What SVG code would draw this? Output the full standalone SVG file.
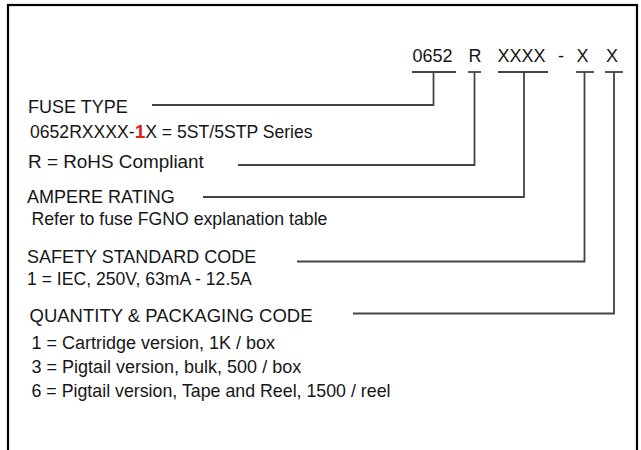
<svg xmlns="http://www.w3.org/2000/svg" width="641" height="450" viewBox="0 0 641 450">
<style>
text{font-family:"Liberation Sans",Arial,Helvetica,sans-serif;font-size:18px;fill:#161616}
.red{fill:#e0201b;font-size:19px;font-weight:bold}
.conn{fill:none;stroke:#444;stroke-width:1.8}
.ul{stroke:#444;stroke-width:1.8}
</style>
<rect x="8" y="5" width="629" height="470" fill="#fff" stroke="#000" stroke-width="2.2"/>
<g id="code">
<text x="412.5" y="62">0652</text>
<text x="468.5" y="62">R</text>
<text x="497.5" y="62">XXXX</text>
<text x="558" y="62">-</text>
<text x="576.5" y="62">X</text>
<text x="606" y="62">X</text>
<line class="ul" x1="412" y1="72" x2="456" y2="72"/>
<line class="ul" x1="468" y1="72" x2="481" y2="72"/>
<line class="ul" x1="498" y1="72" x2="548" y2="72"/>
<line class="ul" x1="576" y1="72" x2="594" y2="72"/>
<line class="ul" x1="605" y1="72" x2="623" y2="72"/>
</g>
<g id="fuse-type">
<text x="28" y="113">FUSE TYPE</text>
<text x="30" y="138" style="font-size:17.6px">0652RXXXX-<tspan class="red">1</tspan>X = 5ST/5STP Series</text>
</g>
<g id="rohs">
<text x="28" y="168" style="font-size:18.9px">R = RoHS Compliant</text>
</g>
<g id="ampere">
<text x="27" y="203">AMPERE RATING</text>
<text x="31.5" y="225" style="font-size:17.7px">Refer to fuse FGNO explanation table</text>
</g>
<g id="safety">
<text x="27" y="262.5">SAFETY STANDARD CODE</text>
<text x="27" y="285" style="font-size:17.6px">1 = IEC, 250V, 63mA - 12.5A</text>
</g>
<g id="quantity">
<text x="29.5" y="321.5" style="font-size:18.5px">QUANTITY &amp; PACKAGING CODE</text>
<text x="31.5" y="349">1 = Cartridge version, 1K / box</text>
<text x="31.5" y="372.5">3 = Pigtail version, bulk, 500 / box</text>
<text x="31.5" y="396.5" style="font-size:17.8px">6 = Pigtail version, Tape and Reel, 1500 / reel</text>
</g>
<g id="connectors">
<path class="conn" d="M152,105 H433.5 V72"/>
<path class="conn" d="M238,165 H474.5 V72"/>
<path class="conn" d="M203,197 H524 V72"/>
<path class="conn" d="M297,261.5 H584.5 V72"/>
<path class="conn" d="M353,313.5 H614 V72"/>
</g>
</svg>
